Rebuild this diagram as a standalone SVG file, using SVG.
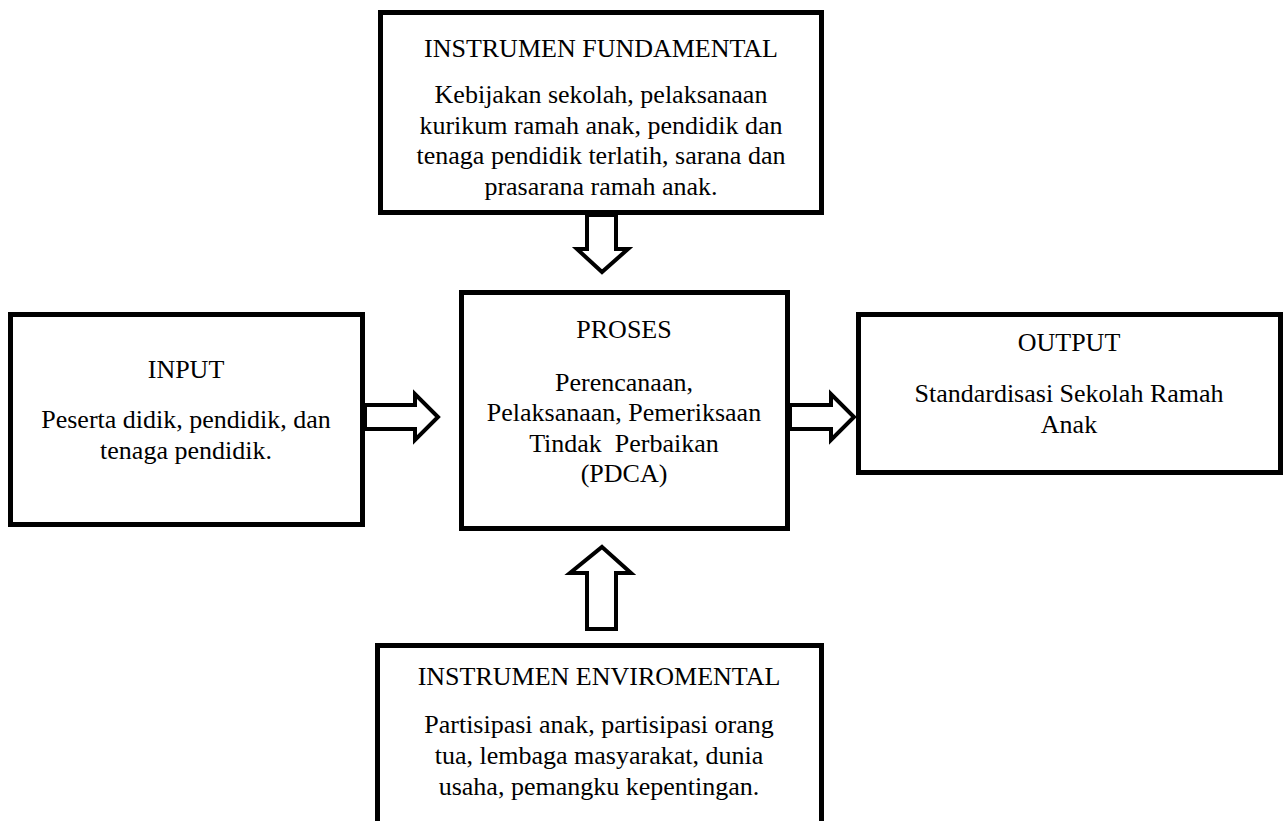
<svg xmlns="http://www.w3.org/2000/svg" width="1288" height="821" viewBox="0 0 1288 821">
<style>
.box{fill:#fff;stroke:#000;stroke-width:5}
.arr{fill:#fff;stroke:#000;stroke-width:4;stroke-linejoin:miter}
text{font-family:"Liberation Serif","Times New Roman",serif;font-size:26px;fill:#000;text-anchor:middle}
</style>
<rect width="1288" height="821" fill="#fff"/>
<g id="fundamental">
<rect class="box" x="380.5" y="12.5" width="441" height="200"/>
<text x="601" y="57">INSTRUMEN FUNDAMENTAL</text>
<text x="601" y="103">Kebijakan sekolah, pelaksanaan</text>
<text x="601" y="134">kurikum ramah anak, pendidik dan</text>
<text x="601" y="164">tenaga pendidik terlatih, sarana dan</text>
<text x="601" y="195">prasarana ramah anak.</text>
</g>
<g id="input">
<rect class="box" x="10.5" y="314.5" width="352" height="210"/>
<text x="186" y="378">INPUT</text>
<text x="186" y="428">Peserta didik, pendidik, dan</text>
<text x="186" y="459">tenaga pendidik.</text>
</g>
<g id="proses">
<rect class="box" x="461.5" y="292.5" width="326" height="236"/>
<text x="624" y="338">PROSES</text>
<text x="624" y="391">Perencanaan,</text>
<text x="624" y="421">Pelaksanaan, Pemeriksaan</text>
<text x="624" y="452" xml:space="preserve">Tindak  Perbaikan</text>
<text x="624" y="482">(PDCA)</text>
</g>
<g id="output">
<rect class="box" x="858.5" y="314.5" width="422" height="158"/>
<text x="1069" y="351">OUTPUT</text>
<text x="1069" y="402">Standardisasi Sekolah Ramah</text>
<text x="1069" y="433">Anak</text>
</g>
<g id="environmental">
<rect class="box" x="377.5" y="645.5" width="444" height="200"/>
<text x="599" y="685">INSTRUMEN ENVIROMENTAL</text>
<text x="599" y="733">Partisipasi anak, partisipasi orang</text>
<text x="599" y="764">tua, lembaga masyarakat, dunia</text>
<text x="599" y="795">usaha, pemangku kepentingan.</text>
</g>
<g id="connectors">
<polygon class="arr" points="587,215 616,215 616,249 628,249 602,272 577,249 587,249"/>
<polygon class="arr" points="365,405 415,405 415,394 438,417 415,440 415,429 365,429"/>
<polygon class="arr" points="790,405 831,405 831,394 854,417 831,440 831,429 790,429"/>
<polygon class="arr" points="602,547 631,573 616,573 616,629 587,629 587,573 570,573"/>
</g>
</svg>
